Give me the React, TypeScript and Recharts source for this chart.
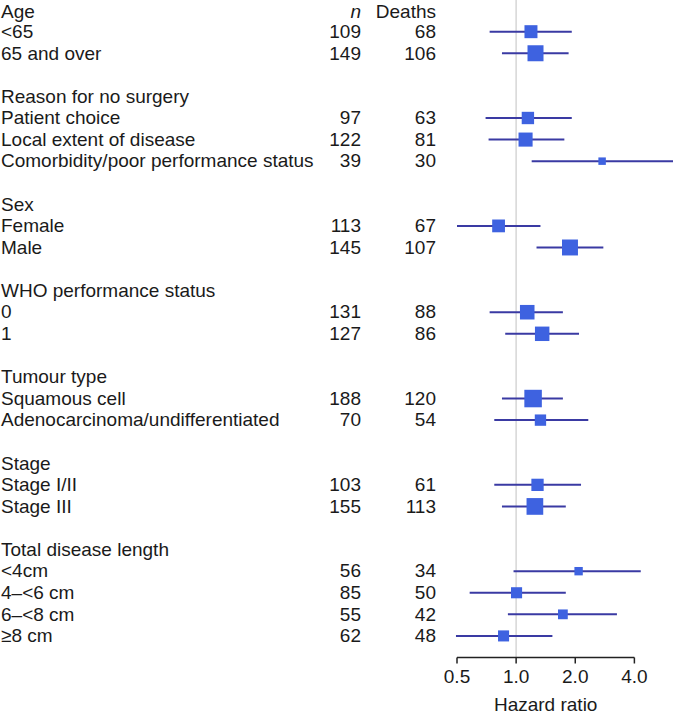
import React from 'react';
import {
  ComposedChart,
  Scatter,
  XAxis,
  YAxis,
  ErrorBar,
  ReferenceLine,
} from 'recharts';

const rowLabels: string[] = [
  'Age', '<65', '65 and over', '',
  'Reason for no surgery', 'Patient choice', 'Local extent of disease', 'Comorbidity/poor performance status', '',
  'Sex', 'Female', 'Male', '',
  'WHO performance status', '0', '1', '',
  'Tumour type', 'Squamous cell', 'Adenocarcinoma/undifferentiated', '',
  'Stage', 'Stage I/II', 'Stage III', '',
  'Total disease length', '<4cm', '4\u2013<6 cm', '6\u2013<8 cm', '\u22658 cm',
];

const nValues: (number | null)[] = [
  null, 109, 149, null,
  null, 97, 122, 39, null,
  null, 113, 145, null,
  null, 131, 127, null,
  null, 188, 70, null,
  null, 103, 155, null,
  null, 56, 85, 55, 62,
];

const deathValues: (number | null)[] = [
  null, 68, 106, null,
  null, 63, 81, 30, null,
  null, 67, 107, null,
  null, 88, 86, null,
  null, 120, 54, null,
  null, 61, 113, null,
  null, 34, 50, 42, 48,
];

const hazardRatio: (number | null)[] = [
  null, 1.19, 1.255, null,
  null, 1.148, 1.117, 2.74, null,
  null, 0.814, 1.88, null,
  null, 1.139, 1.357, null,
  null, 1.22, 1.33, null,
  null, 1.285, 1.246, null,
  null, 2.08, 1.005, 1.73, 0.863,
];

const lowerCI: (number | null)[] = [
  null, 0.733, 0.847, null,
  null, 0.699, 0.724, 1.2, null,
  null, 0.5, 1.27, null,
  null, 0.733, 0.88, null,
  null, 0.847, 0.774, null,
  null, 0.774, 0.847, null,
  null, 0.97, 0.58, 0.908, 0.494,
];

const upperCI: (number | null)[] = [
  null, 1.92, 1.85, null,
  null, 1.92, 1.76, 6.4, null,
  null, 1.33, 2.78, null,
  null, 1.73, 2.09, null,
  null, 1.73, 2.33, null,
  null, 2.14, 1.79, null,
  null, 4.31, 1.79, 3.26, 1.53,
];

const columnHeaders = { n: 'n', deaths: 'Deaths' };
const xTicks = [0.5, 1, 2, 4];
const axisLabel = 'Hazard ratio';

const FONT = '"Liberation Sans", Arial, Helvetica, sans-serif';
const TEXT_COLOR = '#1a1a1a';
const FONT_SIZE = 19;

const points = rowLabels
  .map((label, i) => ({
    row: i,
    label,
    hr: hazardRatio[i],
    lo: lowerCI[i],
    hi: upperCI[i],
  }))
  .filter((d) => d.hr != null)
  .map((d) => ({
    ...d,
    err: [(d.hr as number) - (d.lo as number), (d.hi as number) - (d.hr as number)],
    side: 12.5 / Math.log((d.hi as number) / (d.lo as number)),
  }));

const rowTicks = rowLabels.map((_, i) => i);

const RowTick = (props: any) => {
  const { y, payload } = props;
  const i = payload.value as number;
  const label = rowLabels[i];
  const n = nValues[i];
  const d = deathValues[i];
  const ty = i === 0 ? y + 1.5 : y - 0.5;
  const common = {
    fontFamily: FONT,
    fontSize: FONT_SIZE,
    fill: TEXT_COLOR,
    dy: '0.355em',
  } as any;
  return (
    <g>
      {label ? (
        <text x={1} y={ty} textAnchor="start" {...common}>
          {label}
        </text>
      ) : null}
      {i === 0 ? (
        <>
          <text x={361} y={ty} textAnchor="end" fontStyle="italic" {...common}>
            {columnHeaders.n}
          </text>
          <text x={436} y={ty} textAnchor="end" {...common}>
            {columnHeaders.deaths}
          </text>
        </>
      ) : null}
      {n != null ? (
        <text x={361} y={ty} textAnchor="end" {...common}>
          {n}
        </text>
      ) : null}
      {d != null ? (
        <text x={436} y={ty} textAnchor="end" {...common}>
          {d}
        </text>
      ) : null}
    </g>
  );
};

const SquareMarker = (props: any) => {
  const { cx, cy, payload } = props;
  if (cx == null || cy == null) return null;
  const s = payload.side;
  return <rect x={cx - s / 2} y={cy - s / 2} width={s} height={s} fill="#3e62e0" />;
};

export default function App() {
  return (
    <div style={{ position: 'absolute', left: 0, top: 0, width: 673, height: 716, background: '#fff' }}>
      <ComposedChart
        width={673}
        height={716}
        margin={{ top: 0, right: 0, bottom: 0, left: 0 }}
      >
        <XAxis
          type="number"
          dataKey="hr"
          scale="log"
          domain={[0.5, 6.29]}
          allowDataOverflow
          ticks={xTicks}
          tickFormatter={(v: number) => v.toFixed(1)}
          axisLine={false}
          tickSize={6}
          tickMargin={6}
          tickLine={{ stroke: '#222', strokeWidth: 1.5 }}
          tick={{ fontFamily: FONT, fontSize: FONT_SIZE, fill: TEXT_COLOR }}
          height={58.5}
          interval={0}
        />
        <YAxis
          type="number"
          dataKey="row"
          domain={[-0.468, 30]}
          reversed
          allowDataOverflow
          ticks={rowTicks}
          interval={0}
          width={457}
          axisLine={false}
          tickLine={false}
          tick={<RowTick />}
        />
        <ReferenceLine x={1} stroke="#d6d6d6" strokeWidth={1.5} ifOverflow="visible" />
        <ReferenceLine
          segment={[
            { x: 0.5, y: 30 },
            { x: 4, y: 30 },
          ]}
          stroke="#222"
          strokeWidth={1.5}
          ifOverflow="visible"
          label={{
            value: axisLabel,
            position: 'bottom',
            offset: 40,
            fontFamily: FONT,
            fontSize: FONT_SIZE,
            fill: TEXT_COLOR,
          }}
        />
        <Scatter data={points} dataKey="hr" shape={<SquareMarker />} isAnimationActive={false}>
          <ErrorBar dataKey="err" direction="x" width={0} stroke="#3a3aa3" strokeWidth={2} />
        </Scatter>
      </ComposedChart>
    </div>
  );
}
